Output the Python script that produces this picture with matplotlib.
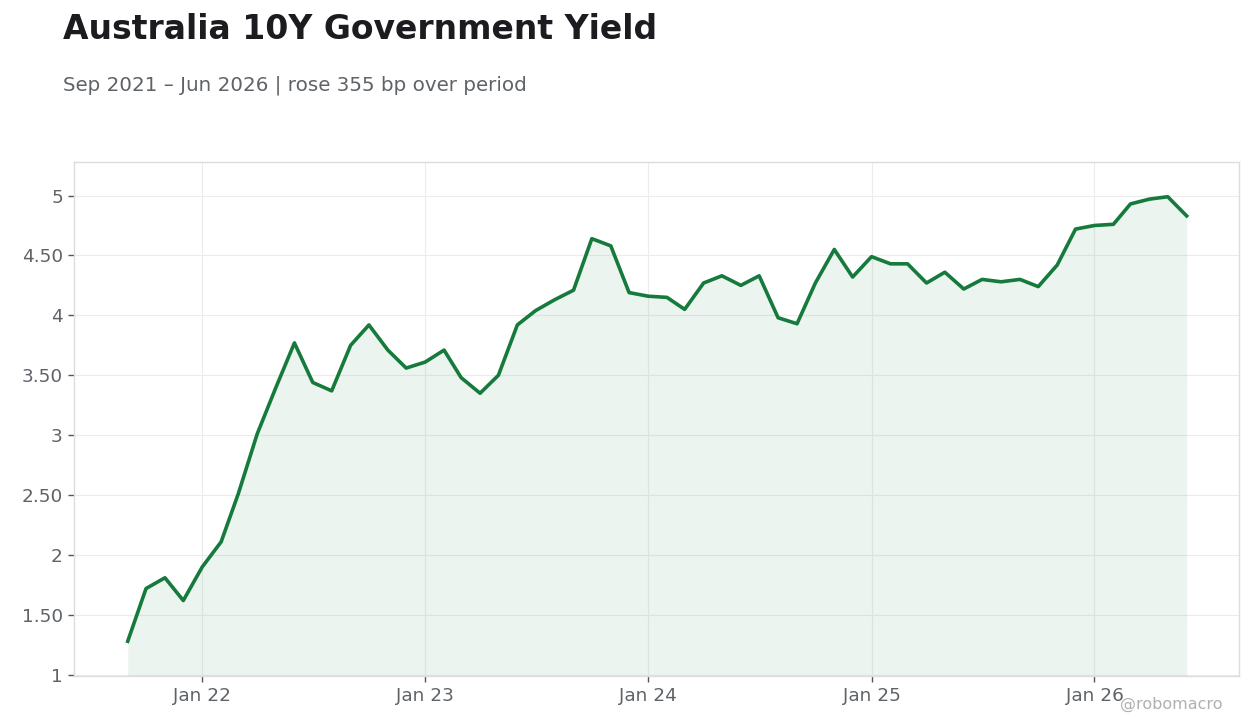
import matplotlib
matplotlib.use("Agg")
import matplotlib.pyplot as plt
import matplotlib.dates as mdates
import matplotlib.ticker as mticker
import numpy as np
import pandas as pd

# monthly data, Sep 2021 - Jun 2026
bulan = pd.date_range("2021-09-01", "2026-06-01", freq="MS")
yield_10y = [
    1.28, 1.72, 1.81, 1.62,
    1.90, 2.11, 2.51, 3.01, 3.39, 3.77, 3.44, 3.37, 3.75, 3.92, 3.71, 3.56,
    3.61, 3.71, 3.48, 3.35, 3.50, 3.92, 4.04, 4.13, 4.21, 4.64, 4.58, 4.19,
    4.16, 4.15, 4.05, 4.27, 4.33, 4.25, 4.33, 3.98, 3.93, 4.27, 4.55, 4.32,
    4.49, 4.43, 4.43, 4.27, 4.36, 4.22, 4.30, 4.28, 4.30, 4.24, 4.42, 4.72,
    4.75, 4.76, 4.93, 4.97, 4.99, 4.83,
]
yticks = [1, 1.5, 2, 2.5, 3, 3.5, 4, 4.5, 5]

warna = "#157a3c"
abu = "#5f6368"

fig = plt.figure(figsize=(12.6, 7.28), dpi=100)
ax = fig.add_axes([0.0587, 0.0714, 0.9243, 0.7061])

ax.plot(bulan, yield_10y, color=warna, linewidth=2.6, zorder=3)
ax.fill_between(bulan, yield_10y, 0.99, color=warna, alpha=0.08, linewidth=0, zorder=2)

ax.set_ylim(0.99, 5.28)
ax.set_xlim(pd.Timestamp("2021-06-05"), pd.Timestamp("2026-08-25"))
ax.set_yticks(yticks)
ax.yaxis.set_major_formatter(mticker.FuncFormatter(
    lambda v, p: f"{v:.0f}" if abs(v - round(v)) < 1e-9 else f"{v:.2f}"))
ax.xaxis.set_major_locator(mdates.YearLocator(month=1, day=1))
ax.xaxis.set_major_formatter(mdates.DateFormatter("%b %y"))

ax.grid(True, color="#ececec", linewidth=0.8, zorder=0)
for s in ax.spines.values():
    s.set_color("#dddddd")
    s.set_linewidth(1)
ax.tick_params(colors="#555555", labelcolor=abu, labelsize=13.3, length=4.5, width=1)

# judul dan subjudul
fig.text(0.05, 0.96, "Australia 10Y Government Yield", fontsize=23.8, fontweight="bold",
         color="#1c1c20", va="center", ha="left")
fig.text(0.05, 0.883, "Sep 2021 \u2013 Jun 2026 | rose 355 bp over period", fontsize=14.3,
         color=abu, va="center", ha="left")
fig.text(0.97, 0.032, "@robomacro", fontsize=11.5, color="#b0b0b0", ha="right", va="center")

fig.savefig("out.png", dpi=100)
